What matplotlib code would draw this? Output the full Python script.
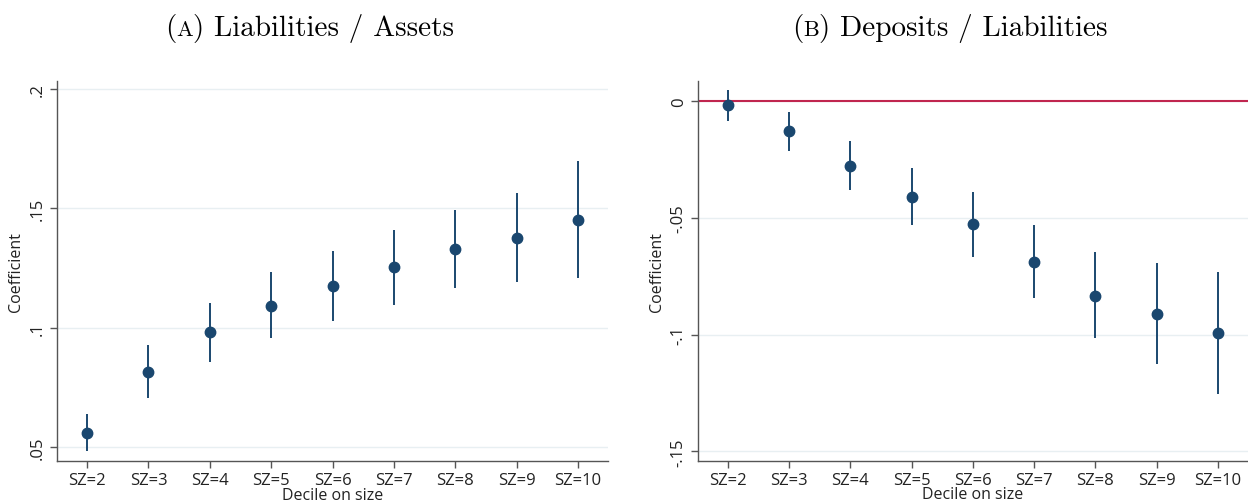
import matplotlib
matplotlib.use("Agg")
import matplotlib.pyplot as plt
from matplotlib.offsetbox import TextArea, HPacker, AnchoredOffsetbox

plt.rcParams['font.family'] = ['Open Sans', 'DejaVu Sans']

deciles = ['SZ=2', 'SZ=3', 'SZ=4', 'SZ=5', 'SZ=6', 'SZ=7', 'SZ=8', 'SZ=9', 'SZ=10']

# Liabilities / Assets: point estimate and 95% CI bounds
lev_coef = [0.0558, 0.0815, 0.0980, 0.1092, 0.1175, 0.1256, 0.1329, 0.1376, 0.1451]
lev_lo = [0.0483, 0.0707, 0.0857, 0.0957, 0.1026, 0.1096, 0.1165, 0.1193, 0.1207]
lev_hi = [0.0638, 0.0926, 0.1105, 0.1232, 0.1320, 0.1411, 0.1495, 0.1565, 0.1700]

# Deposits / Liabilities
dep_coef = [-0.0017, -0.0129, -0.0276, -0.0410, -0.0526, -0.0689, -0.0833, -0.0910, -0.0992]
dep_lo = [-0.0083, -0.0212, -0.0380, -0.0531, -0.0669, -0.0843, -0.1016, -0.1126, -0.1253]
dep_hi = [0.0050, -0.0047, -0.0169, -0.0287, -0.0387, -0.0529, -0.0647, -0.0695, -0.0730]

lev_ticks = [0.05, 0.1, 0.15, 0.2]
lev_ticklabels = ['.05', '.1', '.15', '.2']
dep_ticks = [-0.15, -0.1, -0.05, 0]
dep_ticklabels = ['-.15', '-.1', '-.05', '0']

NAVY = '#1a476f'
GRID = '#e8eff2'
SPINE = '#555555'

fig = plt.figure(figsize=(12.48, 5.02), dpi=100)
ax1 = fig.add_axes([0.0457, 0.0797, 0.4415, 0.757])
ax2 = fig.add_axes([0.5591, 0.0803, 0.4409, 0.757])


def coefplot(ax, coef, lo, hi, ticks, ticklabels, ylim):
    x = list(range(2, 2 + len(coef)))
    ax.vlines(x, lo, hi, color=NAVY, lw=1.4, zorder=3)
    ax.plot(x, coef, 'o', color=NAVY, ms=7.5, zorder=4)
    ax.set_xlim(1.51, 10.49)
    ax.set_ylim(*ylim)
    ax.set_xticks(x)
    ax.set_xticklabels(deciles, fontsize=12)
    ax.set_yticks(ticks)
    ax.set_yticklabels(ticklabels, fontsize=12, rotation=90, va='center')
    ax.grid(axis='y', color=GRID, lw=1)
    ax.set_axisbelow(True)
    for s in ['top', 'right']:
        ax.spines[s].set_visible(False)
    for s in ['left', 'bottom']:
        ax.spines[s].set_color(SPINE)
        ax.spines[s].set_linewidth(1.0)
    ax.tick_params(colors=SPINE, labelcolor='#222222', length=5, width=1, pad=3)
    ax.set_xlabel('Decile on size', fontsize=11.5, labelpad=-1, color='#222222')
    ax.set_ylabel('Coefficient', fontsize=11.5, labelpad=4, color='#222222')


coefplot(ax1, lev_coef, lev_lo, lev_hi, lev_ticks, lev_ticklabels, (0.0441, 0.2034))
coefplot(ax2, dep_coef, dep_lo, dep_hi, dep_ticks, dep_ticklabels, (-0.154, 0.0088))
ax2.axhline(0, color='#c0264f', lw=1.5, zorder=2)


def panel_title(letter, text, xc):
    # "(A) ..." with the letter in small caps, Computer Modern style
    parts = [TextArea('(', textprops=dict(fontfamily='cmr10', fontsize=21)),
             TextArea(letter, textprops=dict(fontfamily='cmr10', fontsize=16)),
             TextArea(') ' + text, textprops=dict(fontfamily='cmr10', fontsize=21))]
    box = HPacker(children=parts, align='baseline', pad=0, sep=0)
    anchored = AnchoredOffsetbox(loc='center', child=box, frameon=False,
                                 bbox_to_anchor=(xc, 0.944),
                                 bbox_transform=fig.transFigure, borderpad=0)
    fig.add_artist(anchored)


panel_title('A', 'Liabilities / Assets', 0.248)
panel_title('B', 'Deposits / Liabilities', 0.761)

fig.savefig('out.png', dpi=100)
